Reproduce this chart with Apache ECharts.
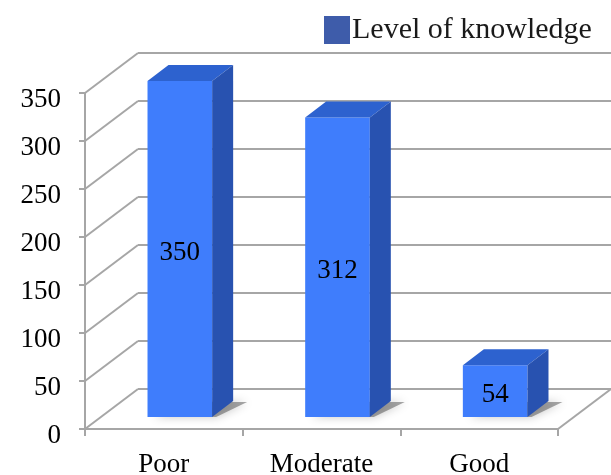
<!DOCTYPE html>
<html>
<head>
<meta charset="utf-8">
<script src="https://cdn.jsdelivr.net/npm/echarts@6/dist/echarts.min.js"></script>
<style>html,body{margin:0;padding:0;background:#fff}#c{width:611px;height:475px}</style>
</head>
<body>
<div id="c"></div>
<script>
const categories = ['Poor', 'Moderate', 'Good'];
const values = [350, 312, 54];
const yTicks = [0, 50, 100, 150, 200, 250, 300, 350];
const seriesName = 'Level of knowledge';

const FONT = 'Liberation Serif';
const GRID_COLOR = '#a6a6a6';
const DEPTH_X = 53, DEPTH_Y = -40;      // floor/wall depth
const BAR_OX = 16, BAR_OY = -12;        // bar front face offset in depth
const BAR_DX = 21, BAR_DY = -16;        // bar depth

const chart = echarts.init(document.getElementById('c'));

chart.setOption({
  animation: false,
  grid: { left: 85, top: 93, right: 53, bottom: 46, outerBoundsMode: 'none', containLabel: false },
  legend: {
    left: 324, top: 15, padding: 0,
    itemWidth: 26, itemHeight: 28,
    icon: 'rect',
    data: [{ name: seriesName, itemStyle: { color: '#3e5caa' } }],
    textStyle: { fontFamily: FONT, fontSize: 30, color: '#1a1a1a', padding: [0, 0, 0, -3] }
  },
  xAxis: {
    type: 'category',
    data: categories,
    axisLine: { lineStyle: { color: GRID_COLOR, width: 2 } },
    axisTick: { show: true, length: 7, lineStyle: { color: GRID_COLOR, width: 2 } },
    axisLabel: { fontFamily: FONT, fontSize: 27, color: '#000', margin: 22 },
    splitLine: { show: false }
  },
  yAxis: {
    type: 'value',
    min: 0, max: 350, interval: 50,
    axisLine: { show: true, lineStyle: { color: GRID_COLOR, width: 2 } },
    axisTick: { show: true, length: 6, lineStyle: { color: GRID_COLOR, width: 2 } },
    axisLabel: { fontFamily: FONT, fontSize: 27, color: '#000', margin: 24, verticalAlign: 'top', lineHeight: 14 },
    splitLine: { show: false }
  },
  series: [
    {
      type: 'custom',
      silent: true,
      z: 1,
      data: yTicks.map(v => [0, v]),
      renderItem: function (params, api) {
        const cs = params.coordSys;
        const y = api.coord([0, api.value(1)])[1];
        const xl = cs.x, xr = cs.x + cs.width;
        const style = { stroke: GRID_COLOR, lineWidth: 2, fill: null };
        const children = [
          { type: 'line', shape: { x1: xl, y1: y, x2: xl + DEPTH_X, y2: y + DEPTH_Y }, style },
          { type: 'line', shape: { x1: xl + DEPTH_X, y1: y + DEPTH_Y, x2: xr + DEPTH_X, y2: y + DEPTH_Y }, style }
        ];
        if (api.value(1) === 0) {
          children.push({ type: 'line', shape: { x1: xr, y1: y, x2: xr + DEPTH_X, y2: y + DEPTH_Y }, style });
        }
        return { type: 'group', children };
      }
    },
    {
      name: seriesName,
      type: 'custom',
      z: 2,
      itemStyle: { color: '#3f7dfc' },
      data: values.map((v, i) => [i, v]),
      renderItem: function (params, api) {
        const base = api.coord([api.value(0), 0]);
        const top = api.coord([api.value(0), api.value(1)]);
        const bw = api.size([1, 0])[0] * 0.41;
        const x0 = base[0] - bw / 2 + BAR_OX, x1 = x0 + bw;
        const yb = base[1] + BAR_OY, yt = top[1] + BAR_OY;
        return {
          type: 'group',
          children: [
            { type: 'polygon', shape: { points: [[x0 + 6, yb], [x1 + 4, yb], [x1 + BAR_DX + 14, yb + BAR_DY + 1], [x0 + BAR_DX + 10, yb + BAR_DY + 1]] },
              style: { fill: 'rgba(60,60,60,0.45)', shadowBlur: 10, shadowColor: 'rgba(0,0,0,0.5)' } },
            { type: 'rect', shape: { x: x0, y: yt, width: bw, height: yb - yt }, style: { fill: '#3f7dfc' } },
            { type: 'polygon', shape: { points: [[x0, yt], [x1, yt], [x1 + BAR_DX, yt + BAR_DY], [x0 + BAR_DX, yt + BAR_DY]] }, style: { fill: '#2d62cf' } },
            { type: 'polygon', shape: { points: [[x1, yt], [x1 + BAR_DX, yt + BAR_DY], [x1 + BAR_DX, yb + BAR_DY], [x1, yb]] }, style: { fill: '#2852b0' } },
            { type: 'text', style: { text: String(api.value(1)), x: (x0 + x1) / 2, y: (yt + yb) / 2 + 4, align: 'center', verticalAlign: 'middle',
              fontFamily: FONT, fontSize: 27, fill: '#000' } }
          ]
        };
      }
    }
  ]
});
</script>
</body>
</html>
